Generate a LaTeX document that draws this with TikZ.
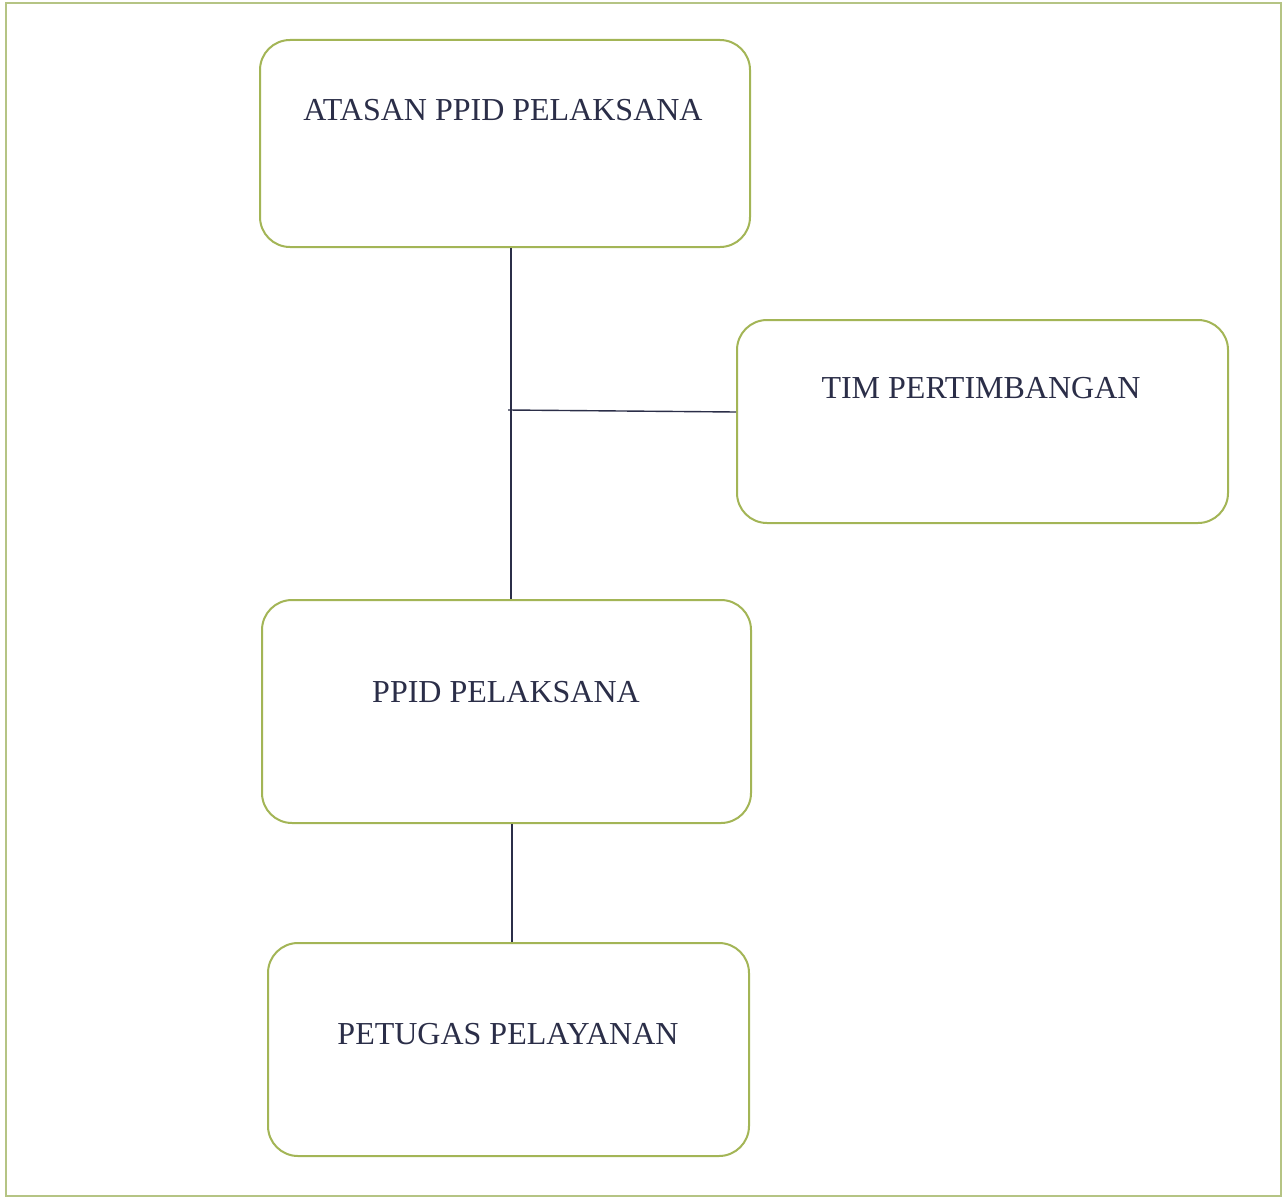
\documentclass[tikz,border=0pt]{standalone}
\usepackage{fontspec}
\setmainfont{Liberation Serif}
\definecolor{boxgreen}{HTML}{A3B556}
\definecolor{framegreen}{HTML}{B5C484}
\definecolor{inkblue}{HTML}{2B2E48}
\begin{document}
\begin{tikzpicture}[x=1pt,y=-1pt,
  orgbox/.style={draw=boxgreen,line width=2pt,rounded corners=30pt,fill=white},
  lbl/.style={text=inkblue,font=\fontsize{32}{35}\selectfont,inner sep=0pt},
  conn/.style={draw=inkblue,line width=1.4pt}]
\useasboundingbox (0,0) rectangle (1284,1199);
\draw[framegreen,line width=2pt] (6,3) rectangle (1281,1196);
% boxes
\node[orgbox,minimum width=490pt,minimum height=207pt,inner sep=0pt] (atasan) at (505,143.5) {};
\node[orgbox,minimum width=491pt,minimum height=203pt,inner sep=0pt] (tim) at (982.5,421.5) {};
\node[orgbox,minimum width=489pt,minimum height=223pt,inner sep=0pt] (ppid) at (506.5,711.5) {};
\node[orgbox,minimum width=481pt,minimum height=213pt,inner sep=0pt] (petugas) at (508.5,1049.5) {};
% labels
\node[lbl] (tatasan) at (503,110) {ATASAN PPID PELAKSANA};
\node[lbl] (ttim) at (981,388) {TIM PERTIMBANGAN};
\node[lbl] (tppid) at (506,692) {PPID PELAKSANA};
\node[lbl] (tpetugas) at (508,1034) {PETUGAS PELAYANAN};
% connectors
\coordinate (j) at (511,411);
\draw[conn] (atasan.south -| j) -- (ppid.north -| j);
\draw[conn] (508,410) -- (tim.west |- 0,412);
\draw[conn] (ppid.south -| 512,0) -- (petugas.north -| 512,0);
\end{tikzpicture}
\end{document}
